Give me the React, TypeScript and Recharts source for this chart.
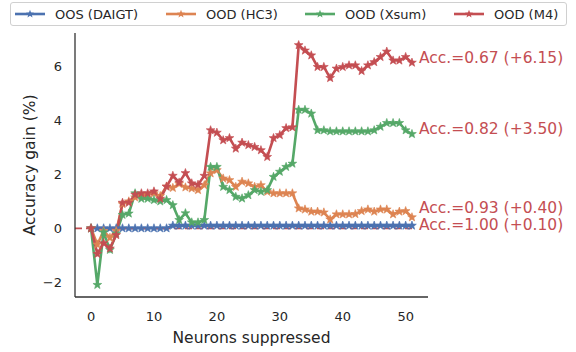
import React from 'react';
import { LineChart, Line, XAxis, YAxis, Legend, ReferenceLine, ReferenceDot } from 'recharts';

// x values: number of neurons suppressed
const neurons = [
  0, 1, 2, 3, 4, 5, 6, 7, 8, 9, 10, 11, 12, 13, 14, 15, 16, 17, 18, 19, 20, 21, 22, 23, 24, 25,
  26, 27, 28, 29, 30, 31, 32, 33, 34, 35, 36, 37, 38, 39, 40, 41, 42, 43, 44, 45, 46, 47, 48, 49, 50, 51,
];

// accuracy gain (%) per series
const oosDaigt = [
  0, 0, 0, 0, 0, 0, 0, 0, 0, 0, 0, 0, 0, 0.1, 0.1, 0.1, 0.1, 0.1, 0.1, 0.1, 0.1, 0.1, 0.1, 0.1, 0.1, 0.1,
  0.1, 0.1, 0.1, 0.1, 0.1, 0.1, 0.1, 0.1, 0.1, 0.1, 0.1, 0.1, 0.1, 0.1, 0.1, 0.1, 0.1, 0.1, 0.1, 0.1, 0.1, 0.1, 0.1, 0.1, 0.1, 0.1,
];
const oodHc3 = [
  0, -0.6, -0.1, -0.35, -0.1, 0.9, 1.0, 1.15, 1.2, 1.25, 1.3, 1.2, 1.55, 1.5, 1.65, 1.52, 1.48, 1.42, 1.6, 2.04, 2.16, 1.85, 1.79, 1.54, 1.73, 1.67,
  1.54, 1.6, 1.36, 1.3, 1.3, 1.3, 1.3, 0.74, 0.7, 0.62, 0.62, 0.59, 0.33, 0.52, 0.52, 0.52, 0.53, 0.64, 0.7, 0.62, 0.7, 0.7, 0.52, 0.62, 0.64, 0.41,
];
const oodXsum = [
  0, -2.1, -0.15, -0.8, -0.2, 0.5, 0.55, 1.3, 1.1, 1.1, 1.05, 1.0, 1.05, 0.86, 0.31, 0.56, 0.22, 0.22, 0.31, 2.28, 2.28, 1.54, 1.42, 1.17, 1.11, 1.23,
  1.42, 1.36, 1.42, 1.91, 2.1, 2.28, 2.4, 4.4, 4.4, 4.26, 3.64, 3.64, 3.6, 3.6, 3.6, 3.6, 3.6, 3.6, 3.6, 3.64, 3.77, 3.91, 3.91, 3.91, 3.64, 3.5,
];
const oodM4 = [
  0, -0.95, -0.55, -0.75, -0.25, 0.95, 0.95, 1.25, 1.3, 1.3, 1.37, 1.1, 1.55, 1.95, 1.7, 2.05, 1.67, 1.62, 1.95, 3.64, 3.55, 3.27, 3.35, 2.96, 3.18, 3.09,
  3.02, 2.9, 2.65, 3.35, 3.46, 3.72, 3.75, 6.8, 6.6, 6.42, 5.99, 5.99, 5.58, 5.93, 5.99, 6.05, 6.05, 5.84, 6.05, 6.17, 6.36, 6.56, 6.23, 6.23, 6.36, 6.15,
];

const seriesNames = ['OOS (DAIGT)', 'OOD (HC3)', 'OOD (Xsum)', 'OOD (M4)'];
const seriesKeys = ['daigt', 'hc3', 'xsum', 'm4'];
const seriesColors = ['#4c72b0', '#dd8452', '#55a868', '#c44e52'];

const annotationTexts = ['Acc.=0.67 (+6.15)', 'Acc.=0.82 (+3.50)', 'Acc.=0.93 (+0.40)', 'Acc.=1.00 (+0.10)'];
const annotationY = [6.32, 3.68, 0.74, 0.12];

const xTicks = [0, 10, 20, 30, 40, 50];
const yTicks = [-2, 0, 2, 4, 6];

const FONT = '"DejaVu Sans", sans-serif';
const TEXT = '#262626';

// left offset of each legend entry inside the legend box
const legendSlots = [4, 155, 294, 443];

const data = neurons.map((n, i) => ({
  neurons: n,
  daigt: oosDaigt[i],
  hc3: oodHc3[i],
  xsum: oodXsum[i],
  m4: oodM4[i],
}));

const starPoints = (cx: number, cy: number, R: number, r: number) => {
  const pts: string[] = [];
  for (let k = 0; k < 10; k++) {
    const rad = k % 2 === 0 ? R : r;
    const a = -Math.PI / 2 + (k * Math.PI) / 5;
    pts.push(`${cx + rad * Math.cos(a)},${cy + rad * Math.sin(a)}`);
  }
  return pts.join(' ');
};

const StarDot = (props: any) => {
  const { cx, cy, color } = props;
  if (cx == null || cy == null) return null;
  return <polygon points={starPoints(cx, cy, 4.6, 1.9)} fill={color} stroke={color} strokeWidth={0.6} />;
};

const LegendBox = () => (
  <div style={{
    position: 'relative',
    boxSizing: 'border-box',
    width: 557,
    height: 24,
    border: '1px solid #d0d0d0',
    borderRadius: 3,
    background: '#fff',
    fontFamily: FONT,
    fontSize: 13,
    color: TEXT,
  }}>
    {seriesNames.map((name, i) => (
      <div key={name} style={{ position: 'absolute', left: legendSlots[i], top: 0, height: 22, display: 'flex', alignItems: 'center' }}>
        <svg width={30} height={12} style={{ marginRight: 10 }}>
          <line x1={0} y1={6} x2={30} y2={6} stroke={seriesColors[i]} strokeWidth={2.6} />
          <polygon points={starPoints(15, 6, 4.3, 1.8)} fill={seriesColors[i]} />
        </svg>
        <span style={{ whiteSpace: 'nowrap' }}>{name}</span>
      </div>
    ))}
  </div>
);

const App = () => {
  return (
    <div style={{ position: 'absolute', left: 0, top: 0, width: 576, height: 352, background: '#fff' }}>
      <LineChart width={576} height={352} data={data} margin={{ top: 33, right: 148, left: 30, bottom: 15 }}>
        <XAxis
          dataKey="neurons"
          type="number"
          domain={[-2.55, 53.55]}
          ticks={xTicks}
          allowDataOverflow
          stroke="#333"
          strokeWidth={1.3}
          tickLine={false}
          tickSize={0}
          tickMargin={15}
          height={40}
          tick={{ fill: TEXT, fontSize: 13, fontFamily: FONT }}
          label={({ viewBox }: any) => (
            <text x={viewBox.x + viewBox.width / 2} y={343} textAnchor="middle" fill={TEXT} fontSize={15.5} fontFamily={FONT}>
              Neurons suppressed
            </text>
          )}
        />
        <YAxis
          type="number"
          domain={[-2.55, 7.25]}
          ticks={yTicks}
          allowDataOverflow
          width={45}
          stroke="#333"
          strokeWidth={1.3}
          tickLine={false}
          tickSize={0}
          tickMargin={13}
          tick={{ fill: TEXT, fontSize: 13, fontFamily: FONT }}
          tickFormatter={(v: number) => (v < 0 ? '\u2212' + Math.abs(v) : String(v))}
          label={({ viewBox }: any) => {
            const cy = viewBox.y + viewBox.height / 2;
            return (
              <text x={35} y={cy} transform={`rotate(-90, 35, ${cy})`} textAnchor="middle" fill={TEXT} fontSize={15.5} fontFamily={FONT}>
                Accuracy gain (%)
              </text>
            );
          }}
        />
        <Legend
          layout="horizontal"
          verticalAlign="middle"
          align="center"
          wrapperStyle={{ top: 2, left: 10, width: 557 }}
          content={() => <LegendBox />}
        />
        {seriesKeys.map((key, i) => (
          <Line
            key={key}
            type="linear"
            dataKey={key}
            name={seriesNames[i]}
            stroke={seriesColors[i]}
            strokeWidth={2.6}
            dot={(p: any) => <StarDot key={`${key}-${p.index}`} {...p} color={seriesColors[i]} />}
            activeDot={false}
            isAnimationActive={false}
          />
        ))}
        <ReferenceLine
          segment={[{ x: -2.55, y: 0 }, { x: 51.6, y: 0 }]}
          stroke="#c44e52"
          strokeWidth={1.8}
          strokeDasharray="7 4"
          ifOverflow="visible"
        />
        {annotationTexts.map((t, i) => (
          <ReferenceDot
            key={t}
            x={52.1}
            y={annotationY[i]}
            r={0}
            fill="none"
            stroke="none"
            ifOverflow="visible"
            label={({ viewBox }: any) => (
              <text x={viewBox.x} y={viewBox.y} dominantBaseline="central" fill="#c44e52" fontSize={15.5} fontFamily={FONT}>
                {t}
              </text>
            )}
          />
        ))}
      </LineChart>
    </div>
  );
};

export default App;
